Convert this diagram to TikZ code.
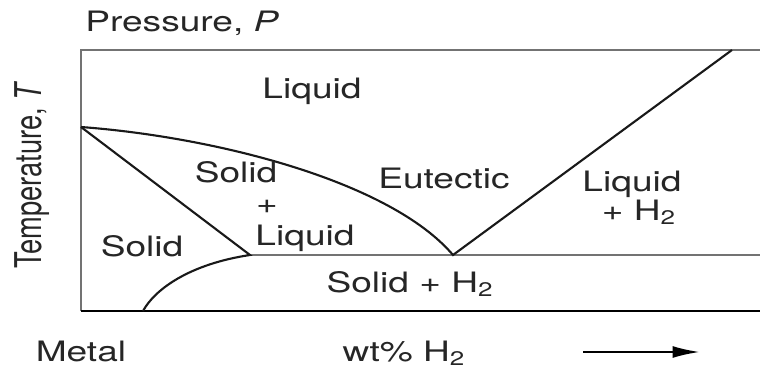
\documentclass[tikz,border=0pt]{standalone}
\usepackage{fontspec}
\setmainfont{TeX Gyre Heros}[FakeStretch=1.32]
\newfontfamily\tallfont{TeX Gyre Heros}
\usetikzlibrary{arrows.meta}
\begin{document}
\begin{tikzpicture}[x=0.02cm,y=0.02cm,>=Latex,
  lbl/.style={font=\fontsize{16}{19}\selectfont,text=black!85,inner sep=0pt,anchor=base},
  frame/.style={draw=black!55,line width=1.3pt},
  phase/.style={draw=black!90,line width=1.2pt}]
\useasboundingbox (0,0) rectangle (760,369);
\coordinate (tl) at (81,319); \coordinate (tr) at (760,319);
\coordinate (bl) at (81,58);  \coordinate (br) at (760,58);
\coordinate (m) at (81,242);  % melting point of the metal
\coordinate (e) at (453,114); % eutectic point
\coordinate (s) at (250,114);
\coordinate (er) at (760,114);
\coordinate (v) at (143,58);
\coordinate (c) at (732,319);
\draw[frame] (tr) -- (tl) -- (bl);
\draw[phase,draw=black] (bl) -- (br);
\draw[frame] (s) -- (er);
\draw[phase] (m) .. controls (215,232) and (390,188) .. (e) -- (c);
\draw[phase] (m) -- (s) .. controls (190,105) and (155,80) .. (v);
\node[lbl,anchor=base west] (p) at (85,337) {Pressure, \textit{P}};
\node[lbl,font=\tallfont\fontsize{21}{25}\selectfont,rotate=90] (t) at (41,194) {\scalebox{0.74}[1]{Temperature, \textit{T}}};
\node[lbl] (liq) at (312,271) {Liquid};
\node[lbl] (sl1) at (236,187) {Solid};
\node[lbl] (sl2) at (267,156) {+};
\node[lbl] (sl3) at (305,124) {Liquid};
\node[lbl] (eut) at (444,181) {Eutectic};
\node[lbl] (lh1) at (632,178) {Liquid};
\node[lbl] (lh2) at (639,149) {+ H\textsubscript{2}};
\node[lbl] (sol) at (142,113) {Solid};
\node[lbl] (sh) at (410,77) {Solid + H\textsubscript{2}};
\node[lbl] (met) at (81,8) {Metal};
\node[lbl] (wt) at (404,8) {wt\% H\textsubscript{2}};
\coordinate (a0) at (583,17); \coordinate (a1) at (700,17);
\draw[-{Latex[length=5.5mm,width=2.4mm]},line width=1.3pt] (a0) -- (a1);
\end{tikzpicture}
\end{document}
